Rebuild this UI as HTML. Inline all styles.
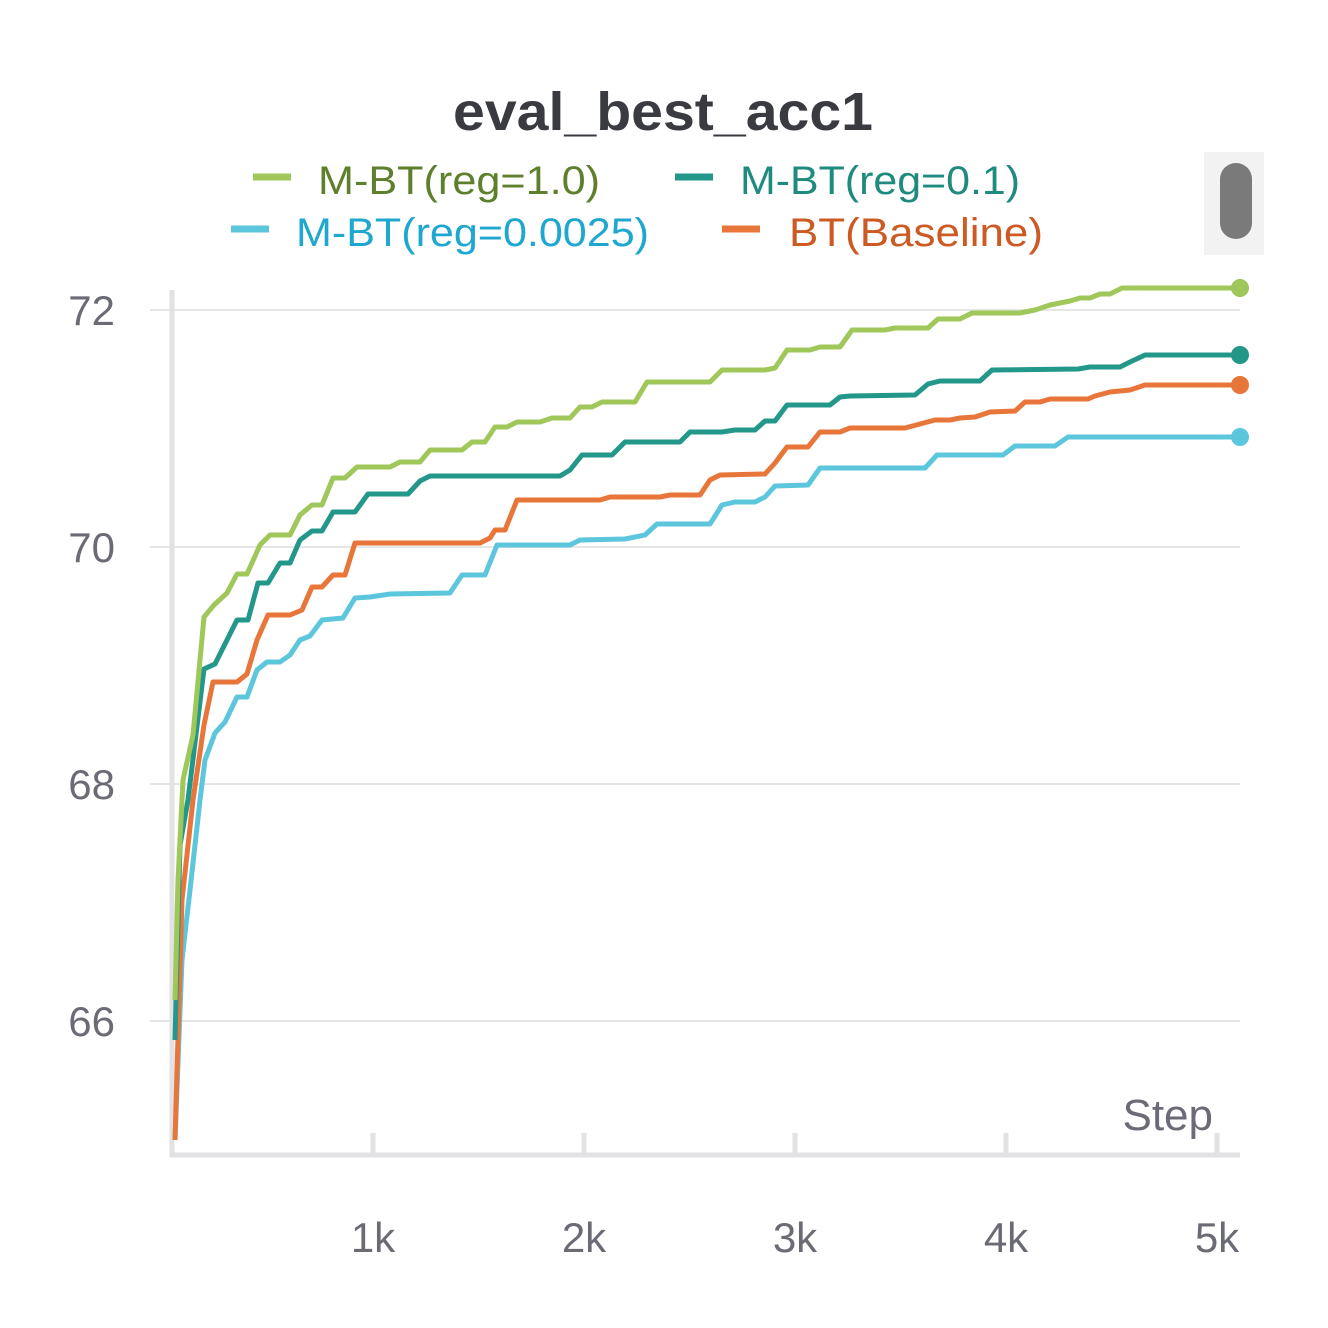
<!DOCTYPE html>
<html><head><meta charset="utf-8"><style>
html,body{margin:0;padding:0;background:#fff;}
svg{display:block;font-family:"Liberation Sans",sans-serif;}
</style></head><body>
<svg width="1328" height="1328" viewBox="0 0 1328 1328" xmlns="http://www.w3.org/2000/svg">
<text x="453" y="130" textLength="420" lengthAdjust="spacingAndGlyphs" font-size="54" font-weight="bold" fill="#3a3b40">eval_best_acc1</text>
<line x1="253" y1="177" x2="291" y2="177" stroke="#9fc75a" stroke-width="7"/>
<text x="318" y="194" textLength="282" lengthAdjust="spacingAndGlyphs" font-size="40" fill="#5e7f2c">M-BT(reg=1.0)</text>
<line x1="675" y1="177" x2="713" y2="177" stroke="#23978a" stroke-width="7"/>
<text x="740" y="194" textLength="280" lengthAdjust="spacingAndGlyphs" font-size="40" fill="#1f8a7e">M-BT(reg=0.1)</text>
<line x1="231" y1="229" x2="269" y2="229" stroke="#5cc6dd" stroke-width="7"/>
<text x="296" y="246" textLength="353" lengthAdjust="spacingAndGlyphs" font-size="40" fill="#1ea8d0">M-BT(reg=0.0025)</text>
<line x1="722" y1="229" x2="760" y2="229" stroke="#e8763a" stroke-width="7"/>
<text x="789" y="246" textLength="254" lengthAdjust="spacingAndGlyphs" font-size="40" fill="#cc5a22">BT(Baseline)</text>
<rect x="1204" y="152" width="60" height="103" fill="#f2f2f2"/>
<rect x="1220" y="163" width="32" height="76" rx="16" fill="#7a7a7a"/>
<g stroke="#e6e6e6" stroke-width="2">
<line x1="150" y1="310" x2="1240" y2="310"/><line x1="150" y1="547" x2="1240" y2="547"/>
<line x1="150" y1="784" x2="1240" y2="784"/><line x1="150" y1="1021" x2="1240" y2="1021"/>
</g>
<g stroke="#e2e2e4" stroke-width="5">
<line x1="172" y1="290" x2="172" y2="1157"/><line x1="170" y1="1155" x2="1240" y2="1155"/>
<line x1="373" y1="1133" x2="373" y2="1155"/><line x1="584" y1="1133" x2="584" y2="1155"/>
<line x1="795" y1="1133" x2="795" y2="1155"/><line x1="1006" y1="1133" x2="1006" y2="1155"/>
<line x1="1217" y1="1133" x2="1217" y2="1155"/>
</g>
<g font-size="42" fill="#6b6b76" text-anchor="end">
<text x="115" y="325">72</text><text x="115" y="562">70</text><text x="115" y="799">68</text><text x="115" y="1036">66</text>
</g>
<g font-size="42" fill="#6b6b76" text-anchor="middle">
<text x="373" y="1252">1k</text><text x="584" y="1252">2k</text><text x="795" y="1252">3k</text><text x="1006" y="1252">4k</text><text x="1217" y="1252">5k</text>
</g>
<text x="1213" y="1130" font-size="44" fill="#6b6b76" text-anchor="end">Step</text>
<g fill="none" stroke-width="5" stroke-linejoin="round">
<polyline stroke="#5cc6dd" points="175,1140 182,960 190,890 200,800 205,760 215,733 225,722 237,697 247,697 257,670 267,662 280,662 290,655 300,640 310,636 322,620 343,618 355,598 370,597 390,594 450,593 462,575 485,575 497,545 570,545 580,540 625,539 645,535 657,524 710,524 722,505 735,502 755,502 765,497 775,486 808,485 820,468 925,468 937,455 1003,455 1015,446 1055,446 1068,437 1240,437"/>
<polyline stroke="#e8763a" points="175,1140 182,900 193,800 204,725 213,682 237,682 247,674 257,640 268,615 290,615 302,610 312,587 322,587 333,575 345,575 355,543 480,543 490,538 495,530 505,530 517,500 600,500 610,497 660,497 670,495 700,495 710,480 720,475 765,474 775,463 787,447 808,447 820,432 840,432 850,428 905,428 920,424 935,420 950,420 960,418 975,417 990,412 1015,411 1025,402 1040,402 1050,399 1088,399 1095,396 1110,392 1130,390 1145,385 1240,385"/>
<polyline stroke="#23978a" points="175,1040 180,845 188,800 204,669 215,664 227,640 237,620 248,620 258,583 268,583 280,563 290,563 300,540 312,531 322,531 333,512 355,512 368,494 408,494 420,481 430,476 560,476 570,470 582,455 612,455 625,442 680,442 690,432 722,432 735,430 755,430 765,421 775,421 787,405 830,405 840,397 850,396 915,395 928,384 940,381 980,381 992,370 1078,369 1090,367 1120,367 1130,362 1145,355 1240,355"/>
<polyline stroke="#9fc75a" points="175,1000 178,880 183,780 193,735 204,617 214,605 227,593 237,574 247,574 260,545 270,535 290,535 300,515 312,505 322,505 333,478 345,478 357,467 390,467 400,462 420,462 430,450 462,450 472,442 485,442 495,427 507,427 517,422 540,422 552,418 570,418 580,407 592,407 602,402 635,402 647,382 710,382 722,370 765,370 775,368 787,350 810,350 820,347 840,347 852,330 885,330 895,328 928,328 938,319 960,319 972,313 1020,313 1035,310 1050,305 1070,301 1080,298 1090,298 1100,294 1110,294 1122,288 1240,288"/>
</g>
<circle cx="1240" cy="288" r="9" fill="#9fc75a"/>
<circle cx="1240" cy="355" r="9" fill="#23978a"/>
<circle cx="1240" cy="385" r="9" fill="#e8763a"/>
<circle cx="1240" cy="437" r="9" fill="#5cc6dd"/>
</svg>
</body></html>
